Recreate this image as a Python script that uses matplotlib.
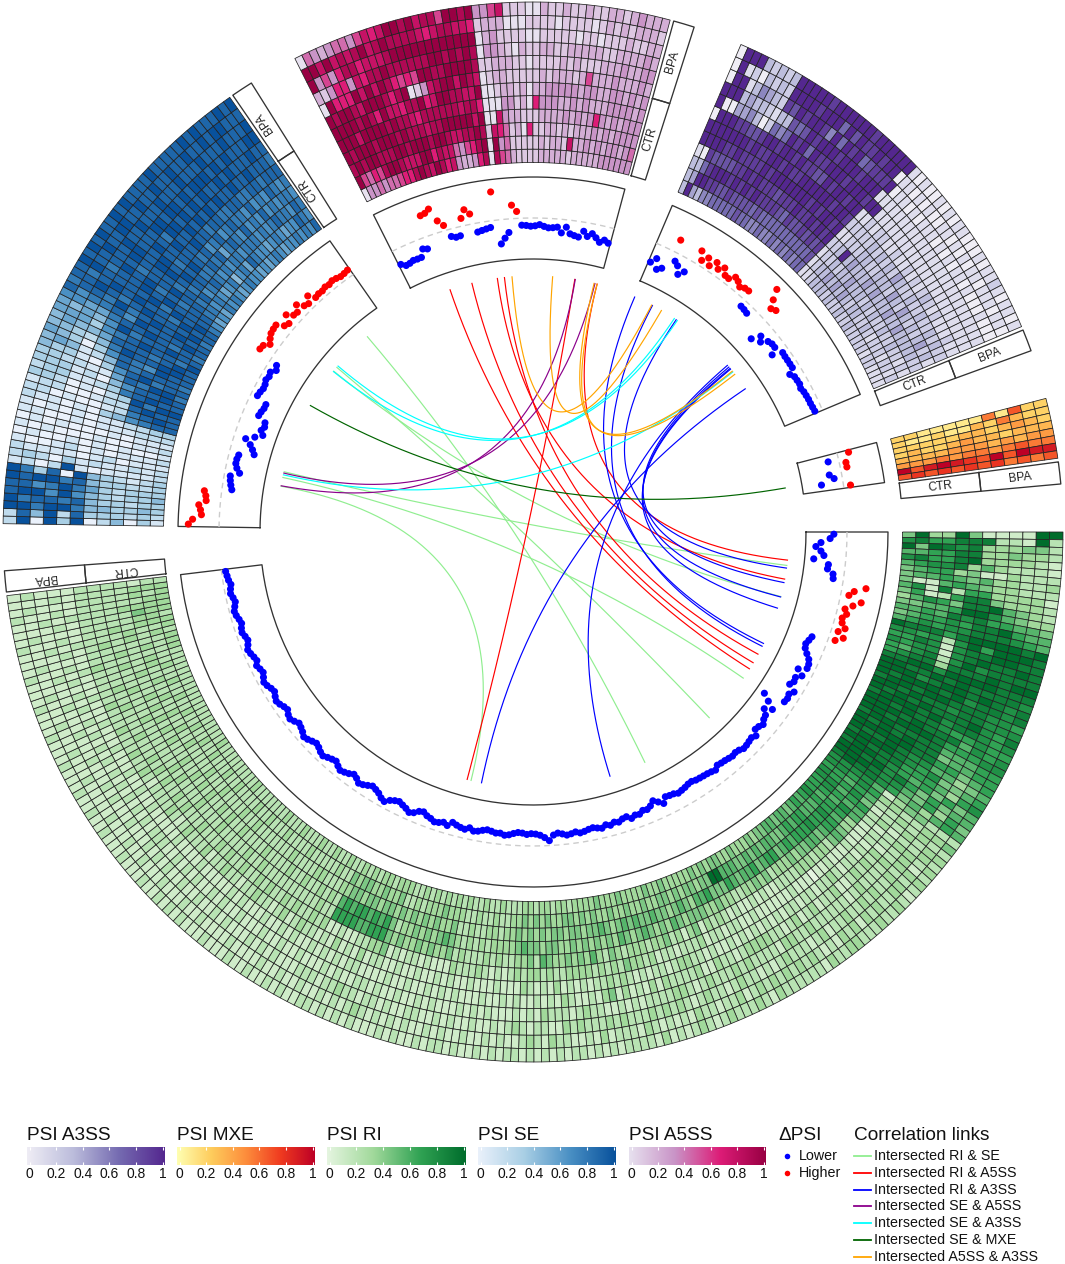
"""Circular PSI heatmaps with delta-PSI dots and correlation links."""

import matplotlib
matplotlib.use("Agg")
import matplotlib.pyplot as plt
import numpy as np
from matplotlib.colors import LinearSegmentedColormap
from matplotlib.lines import Line2D

plt.rcParams["font.family"] = ["Liberation Sans", "DejaVu Sans"]

# one 12-digit token per event, inner track to outer track, digit / 9 = PSI
PSI_RI = """
493394111199 786688822192 949878333442 556688334332 786689333321 567783532221 456634113222 455654533223 411565433222 571826633331
461268843332 357648895432 445569975433 556587866554 456676889655 567677888765 988868999989 776727969998 668717889988 767717898898
657827978888 678838889899 889979999888 998898988887 999789989878 989998978878 899899888776 998988788777 989898889768 899989788767
998988766766 999898885767 998999866677 899888855566 989898845566 999998866456 988987755345 899987674456 998886665367 899876564645
998978646455 999877546364 898876453565 777751344222 776763322334 665652232322 766741223233 775662312232 676552123323 665751222312
656631212333 766531133222 657641222331 556652132232 656541222223 567421232322 466531123232 556532212323 566421311232 455431232212
546330222332 545431122223 454321212233 456321232112 346322122322 455221213213 344411232121 356311122232 345421213222 445311123232
354321221322 355212132232 456211232122 494321132233 394312232121 444422123232 346331212223 435322123312 345432122232 343411232122
334443112223 345332213212 334412232321 443532321222 344321322133 334442223212 435332123321 344431232212 334523212321 335432132213
344333212321 435433121232 334524212212 343332331222 334443212322 435322341221 344433231312 334352212231 343433122212 334343213221
244433112312 343343221212 334332132321 234432312122 343443122131 334352213212 243423121221 334443212132 343532311221 234433122312
233322111212 223321121121 322332211212 233321112121 223232121112 322323112211 232222211121 223322112112 322232121211 232323211122
334441121212 233531212121 343431121112 234342112211 333431211221 234342121112 323432112121 234331211212 223342121121 324231112211
343444211221 334663212132 234563112221 343662321212 334552121321 234651212212 343661121221 244562312112 334661121212 243561211221
223223121211 322322212112 232233211121 222322321112 323222212211 223223121121 222322311212 322223212111 232222121211 222322211112
223223211121 322222312111 222223221211 232232211112 222322122211 322223211121 222232212111 232222311212 223223211121 222322212112
232223121211 223222312112 222332211121 322222212211 222323211112 232222321211 223222212121 222332112211 232223212112 222322311121
223223212111 222322221211 232232212112 322223211121 222332122111 232223211212 223222312111 222223221211 232322212112 223222311121
222322212111 232223221211 223322212112 222232311121 232322212111 223222221211 222323212112 232222311121 223232212111 222223221211
232322212112 223222211121 223232212111 322222321211 323232212112 322222211121 232323212111 322322221211 333232212112 233222211121
334222212111 333322221211 332222212112 323222211121 333222212111 221222211121
"""
PSI_SE = """
130420939092 232333829482 343344799799 332334878879 433234696998 333235797688 322334879989 321234908379 211110192021 212112130232
111021011112 211101021001 100101010010 211001000101 111010001010 222111010011 332211010101 887643010112 898721001022 889822100221
997932010233 889873211332 898864021333 799785112233 887986301334 788878421454 889678630345 899889742344 898788854454 978898763555
889887964545 787898875566 898889687768 889898797887 798889878988 889788989878 898979888899 788898988788 688787989889 578898878898
677878889889 568789989988 776898988898 667887898899 758798888988 667788979889 576878899898 647789898888 766868989988 677578899898
657787988889 586868899888 677778988998 567687899888 667877989888 756678889898 667768898989 576687989888 667867898899 658678889888
767768988998 667687888898 786778898889 678768889888 867678789989
"""
PSI_A5SS = """
098999902990 359899891394 348999963573 469979966392 359998866673 488899793884 498998977874 598996996683 689989978795 679897898777
878987689786 979886868897 899878958989 799868068989 968789158988 889886398989 679887798977 778989889968 347989989978 237988998985
258978799989 368987998979 689787899978 898969788969 001000010013 897000113223 536701223325 444332222127 211232121101 112211110101
110122112101 116100101010 111162111010 221232212112 212233112111 222233211101 221223221112 212323212111 171233122011 222322212112
222233512101 232323212011 223622221122 232322221112 323233322121 332333232212 333232222123 323333222122 333322333222 343333232212
"""
PSI_A3SS = """
333199099000 943099909999 496899909919 398799943129 589789844303 589789853532 679799733423 678888702332 689889821223 678988963899
679888953799 778999867999 679889996899 668898987989 578899899998 568798968899 668898899599 567899889969 566899789699 668999798979
567889999899 667899899988 568989989689 667898998799 568999899889 667889999899 678998989899 111212191909 122212191011 232322211110
333922111101 342322211010 333433211100 243332111011 334323111100 243322211101 233433111110 323332111011 232434211101 233323111010
322342211100 223332111010 232423211101 222342311110 213332211011 222423111101 122332211012 223322111011 212333111010 122342111101
121323211011 112232111010 121212111001
"""
PSI_MXE = """
221111151622 211211325322 222223323432 232234332333 333344434344 444545545655 968987696988 676767675656
"""

# delta PSI per event, scaled by 100, in track units
DELTA_RI = [
    -32, -41, -63, -75, -62, -54, -78, -41, -42, -27, -25,
    58, 31, 20, 53, 35, 18, 25, 17, 20, 31, 17, 34, 17,
    -39, -43, -47, -44, -35, -25, -20, -19, -38, -22, -34, -32, -38, -19, -27, -24, -26,
    -78, -59, -39, -56, -44, -41, -34, -39, -41, -29, -34, -32, -30, -29, -34, -36, -34, -36, -38, -39,
    -41, -34, -37, -39, -40, -41, -42, -45, -44, -41, -39, -37, -41, -42, -44, -31, -40, -48, -39, -34,
    -36, -30, -32, -27, -35, -33, -28, -31, -26, -30, -24, -27, -30, -28, -25, -23, -27, -24, -22, -26,
    -29, -25, -12, -20, -26, -29, -30, -28, -31, -32, -29, -25, -23, -27, -26, -29, -31, -28, -24, -22,
    -28, -22, -24, -27, -31, -20, -25, -21, -19, -24, -27, -33, -30, -22, -18, -24, -28, -32, -29, -24,
    -15, -19, -26, -30, -33, -28, -23, -20, -27, -31, -25, -21, -18, -23, -29, -26, -22, -17, -20, -25,
    -28, -24, -19, -16, -22, -26, -29, -23, -18, -21, -27, -24, -19, -16, -20, -25, -22, -17, -14, -19,
    -24, -21, -17, -23, -20, -16, -13, -18, -22, -19, -15, -17, -21, -18, -14, -12, -16, -20, -17, -13,
    -15, -18, -14, -12, -10,
]
DELTA_SE = [
    75, 65, 44, 47, 52, 35, 37, 42,
    -24, -20, -17, -15, -36, -27, -22, -22, -24, -60, -53, -44, -29, -49, -66, -58, -63, -60, -39, -41,
    -44, -44, -16, -18, -21, -20, -16, -19, -16, -26, -20,
    36, 34, 22, 30, 36, 38, 39, 22, 17, 36, 22, 20, 34, 19, 15, 30, 14, 16, 15, 18, 16, 19, 17, 14, 15, 17,
]
DELTA_A5SS = [
    -38, -46, -45, -42, -43, -43, -25, -29, 53, 55, 62, 28, 13, -18, -23, -22, 19, 38, 25,
    -22, -20, -18, -16, 70, -59, -46, -33, 33, 17, -17, -18, -20, -19, -16, -20, -23, -22, -20,
    -33, -18, -33, -36, -38, -22, -33, -24, -32, -41, -33, -38,
]
DELTA_A3SS = [
    -48, -34, -58, -50, 32, -20, -27, -45, -32, 34, 14, 28, 13, 30, 18, 30, 16, 15, 28, 24, 16, 22, 23,
    -17, -18, -20, 73, 49, 30, 36, -55, -33, -43, -28, -24, -24, -40, -16, -17, -17, -17, -17,
    -31, -24, -23, -22, -25, -22, -21, -20, -20, -19, -18,
]
DELTA_MXE = [28, -26, 16, 16, -30, -20, -53, 17]

# link ends as clockwise degrees from east
LINKS_RI_SE = [(229.7, 64.1), (220.0, 46.5), (218.9, 14.6), (193.6, 7.5), (192.3, 34.8), (190.3, 104.0)]
LINKS_RI_A5SS = [(251.1, 32.3), (256.2, 30.7), (262.0, 10.6), (263.6, 28.5), (284.5, 6.3), (279.4, 104.9)]
LINKS_RI_A3SS = [(293.4, 25.8), (297.8, 26.5), (304.0, 8.1), (319.4, 72.5), (320.3, 14.7), (319.9, 11.4),
                 (326.0, 101.6), (320.5, 17.3)]
LINKS_SE_A5SS = [(279.5, 190.4), (284.0, 193.3)]
LINKS_SE_A3SS = [(220.4, 304.3), (218.8, 303.5), (192.9, 321.3)]
LINKS_SE_MXE = [(209.6, 350.1)]
LINKS_A5SS_A3SS = [(265.3, 297.6), (274.4, 300.1), (283.8, 321.1), (284.5, 322.0)]

LINK_LABELS = ["Intersected RI & SE", "Intersected RI & A5SS", "Intersected RI & A3SS", "Intersected SE & A5SS",
               "Intersected SE & A3SS", "Intersected SE & MXE", "Intersected A5SS & A3SS"]
LINK_COLORS = ["#90ee90", "#ff0000", "#0000ff", "#8b008b", "#00ffff", "#006400", "#ffa500"]
TICK_VALUES = [0, 0.2, 0.4, 0.6, 0.8, 1]
TICK_LABELS = ["0", "0.2", "0.4", "0.6", "0.8", "1"]

W, H = 1065, 1264
CX, CY, RMAX = 533, 532, 533
R_HEAT_IN, R_HEAT_OUT = 369.5, 530
R_DOT_IN, R_DOT_MID, R_DOT_OUT = 273, 314, 355
R_LINK = 256
EDGE = "#333333"

CMAPS = {
    "A3SS": LinearSegmentedColormap.from_list("a3ss", ["#efedf5", "#bcbddc", "#756bb1", "#54278f"]),
    "MXE": LinearSegmentedColormap.from_list("mxe", ["#ffffb2", "#fecc5c", "#fd8d3c", "#f03b20", "#bd0026"]),
    "RI": LinearSegmentedColormap.from_list("ri", ["#e5f5e0", "#a1d99b", "#31a354", "#006d2c"]),
    "SE": LinearSegmentedColormap.from_list("se", ["#eaf1fb", "#a9cfe5", "#4a90c4", "#08519c"]),
    "A5SS": LinearSegmentedColormap.from_list("a5ss", ["#e7e1ef", "#c994c7", "#dd1c77", "#980043"]),
}


def fig_xy(x, y):
    """Pixel position in the reference to figure fraction."""
    return x / W, 1 - y / H


def arc_outline(t0, t1, r0, r1):
    """Closed sector outline in radians and radius."""
    arc = np.radians(np.linspace(t0, t1, 80))
    theta = np.concatenate([arc, arc[::-1], arc[:1]])
    radius = np.concatenate([np.full(80, r0), np.full(80, r1), [r0]])
    return theta, radius


def draw_sector(ax, psi, delta, cmap, t0, t1, box_t0, box_t1):
    """Heatmap, dot track and CTR/BPA boxes of one splicing type."""
    rows = [[int(c) / 9 for c in token] for token in psi.split()]
    values = np.array(rows)
    theta_edges = np.radians(np.linspace(t0, t1, values.shape[0] + 1))
    radius_edges = np.linspace(R_HEAT_IN, R_HEAT_OUT, values.shape[1] + 1)
    mesh = ax.pcolormesh(theta_edges, radius_edges, values.T, cmap=cmap, vmin=0, vmax=1,
                         edgecolors="#222222", linewidth=0.55, antialiased=True, zorder=2)
    mesh.set_snap(False)

    theta, radius = arc_outline(t0, t1, R_DOT_IN, R_DOT_OUT)
    ax.plot(theta, radius, color=EDGE, lw=0.95, zorder=3)
    arc = np.radians(np.linspace(t0, t1, 80))
    ax.plot(arc, np.full(80, R_DOT_MID), color="#cccccc", lw=1.0, ls=(0, (4, 3)), zorder=3)

    delta = np.array(delta) / 100
    centers = (theta_edges[:-1] + theta_edges[1:]) / 2
    colors = ["blue" if d < 0 else "red" for d in delta]
    ax.scatter(centers[:len(delta)], R_DOT_MID + 41 * delta, c=colors, s=26, linewidths=0, zorder=4)

    r_mid = (R_HEAT_IN + R_HEAT_OUT) / 2
    for r0, r1, label in [(R_HEAT_IN, r_mid, "CTR"), (r_mid, R_HEAT_OUT, "BPA")]:
        theta, radius = arc_outline(box_t0, box_t1, r0, r1)
        ax.plot(theta, radius, color=EDGE, lw=0.95, zorder=3)
        mid = (box_t0 + box_t1) / 2
        ax.text(np.radians(mid), (r0 + r1) / 2, label, rotation=-mid, rotation_mode="anchor",
                ha="center", va="center", fontsize=8.6, color="#222222")


def draw_links(ax, links, color):
    """Quadratic curves pulled toward the centre of the circle."""
    t = np.linspace(0, 1, 200)
    for start, end in links:
        a, b = np.radians(start), np.radians(end)
        x = (1 - t) ** 2 * np.cos(a) + t ** 2 * np.cos(b)
        y = (1 - t) ** 2 * np.sin(a) + t ** 2 * np.sin(b)
        ax.plot(np.arctan2(y, x) % (2 * np.pi), R_LINK * np.hypot(x, y), color=color, lw=0.85, zorder=1)


def draw_colorbar(fig, name, title, x0, x1):
    """Horizontal legend bar with white ticks and labels underneath."""
    y0, y1 = 1147, 1165
    left, bottom = fig_xy(x0, y1)
    bar = fig.add_axes([left, bottom, (x1 - x0) / W, (y1 - y0) / H])
    pad = 2.5 / (x1 - x0 - 5)
    bar.imshow(np.linspace(0, 1, 256)[None, :], cmap=CMAPS[name], aspect="auto", extent=[-pad, 1 + pad, 0, 1])
    bar.set_xlim(-pad, 1 + pad)
    bar.set_ylim(0, 1)
    bar.axis("off")
    bar.vlines(TICK_VALUES, 0, 0.14, color="white", lw=0.8)
    bar.vlines(TICK_VALUES, 0.86, 1, color="white", lw=0.8)
    for value, label in zip(TICK_VALUES, TICK_LABELS):
        x = x0 + 2.5 + value * (x1 - x0 - 5)
        fig.text(*fig_xy(x, 1174), label, ha="center", va="center", fontsize=10.0, color="#111111")
    fig.text(*fig_xy(x0, 1135), title, ha="left", va="center", fontsize=13.7, color="#111111")


def main():
    fig = plt.figure(figsize=(W / 100, H / 100), dpi=100)
    ax = fig.add_axes([(CX - RMAX) / W, 1 - (CY + RMAX) / H, 2 * RMAX / W, 2 * RMAX / H], projection="polar")
    ax.set_theta_zero_location("E")
    ax.set_theta_direction(-1)

    draw_sector(ax, PSI_RI, DELTA_RI, CMAPS["RI"], 0, 173.1, 173.5, 175.8)
    draw_sector(ax, PSI_SE, DELTA_SE, CMAPS["SE"], 180.9, 235.1, 235.5, 237.9)
    draw_sector(ax, PSI_A5SS, DELTA_A5SS, CMAPS["A5SS"], 243.3, 285.0, 285.4, 287.7)
    draw_sector(ax, PSI_A3SS, DELTA_A3SS, CMAPS["A3SS"], 293.1, 337.2, 337.6, 340.0)
    draw_sector(ax, PSI_MXE, DELTA_MXE, CMAPS["MXE"], 345.4, 352.0, 352.4, 354.8)

    all_links = [LINKS_RI_SE, LINKS_RI_A5SS, LINKS_RI_A3SS, LINKS_SE_A5SS, LINKS_SE_A3SS, LINKS_SE_MXE,
                 LINKS_A5SS_A3SS]
    for links, color in zip(all_links, LINK_COLORS):
        draw_links(ax, links, color)

    ax.set_xlim(0, 2 * np.pi)
    ax.set_ylim(0, RMAX)
    ax.axis("off")

    draw_colorbar(fig, "A3SS", "PSI A3SS", 27, 165)
    draw_colorbar(fig, "MXE", "PSI MXE", 177, 315)
    draw_colorbar(fig, "RI", "PSI RI", 327, 466)
    draw_colorbar(fig, "SE", "PSI SE", 478, 616)
    draw_colorbar(fig, "A5SS", "PSI A5SS", 629, 766)

    fig.text(*fig_xy(778, 1135), "\u0394PSI", ha="left", va="center", fontsize=13.7, color="#111111")
    for y, color, label in [(1156, "blue", "Lower"), (1173, "red", "Higher")]:
        x_fig, y_fig = fig_xy(787, y)
        fig.add_artist(Line2D([x_fig], [y_fig], marker="o", ms=4, mfc=color, mec=color, mew=0, ls="none"))
        fig.text(*fig_xy(799, y), label, ha="left", va="center", fontsize=10.3, color="#111111")

    fig.text(*fig_xy(854, 1135), "Correlation links", ha="left", va="center", fontsize=13.7, color="#111111")
    for i, (label, color) in enumerate(zip(LINK_LABELS, LINK_COLORS)):
        y = 1156 + 16.8 * i
        x0, y_fig = fig_xy(854, y)
        x1, _ = fig_xy(871, y)
        fig.add_artist(Line2D([x0, x1], [y_fig, y_fig], color=color, lw=1.3))
        fig.text(*fig_xy(874.5, y), label, ha="left", va="center", fontsize=10.3, color="#111111")

    fig.savefig("out.png", dpi=100, facecolor="white")


if __name__ == "__main__":
    main()
